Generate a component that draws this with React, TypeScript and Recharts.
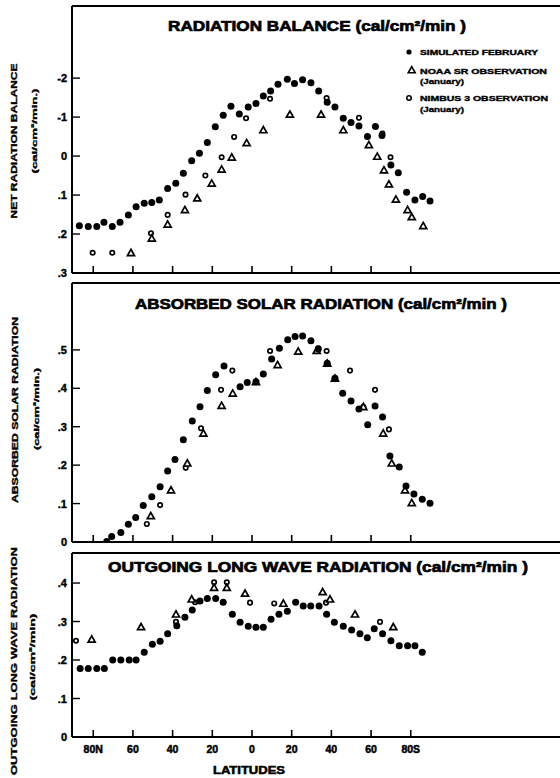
import React from 'react';
import { ScatterChart, Scatter, XAxis, YAxis, ReferenceLine } from 'recharts';

type Pt = [number, number];

// ---------- axis ticks ----------
const latTicks = [80, 60, 40, 20, 0, -20, -40, -60, -80];
const latTickLabels = ['80N', '60', '40', '20', '0', '20', '40', '60', '80S'];

const balanceTicks = [0.2, 0.1, 0, -0.1, -0.2, -0.3];
const balanceTickLabels = ['-2', '-1', '0', '.1', '.2', '.3'];
const absorbedTicks = [0.5, 0.4, 0.3, 0.2, 0.1, 0];
const absorbedTickLabels = ['.5', '.4', '.3', '.2', '.1', '0'];
const outgoingTicks = [0.4, 0.3, 0.2, 0.1, 0];
const outgoingTickLabels = ['.4', '.3', '.2', '.1', '0'];

// ---------- data: [latitude (N positive), value] ----------
const balanceSimulated: Pt[] = [
  [87.0, -0.179], [82.5, -0.181], [78.2, -0.181], [74.6, -0.170], [70.4, -0.181], [66.5, -0.170],
  [62.3, -0.151], [58.4, -0.130], [54.3, -0.121], [50.5, -0.119], [46.7, -0.113], [42.5, -0.083],
  [38.4, -0.070], [34.6, -0.044], [30.4, -0.012], [26.5, 0.007], [22.5, 0.035], [18.5, 0.075],
  [14.5, 0.105], [10.6, 0.128], [6.4, 0.108], [1.9, 0.126], [-2.0, 0.135], [-5.7, 0.154],
  [-9.4, 0.167], [-13.1, 0.184], [-17.8, 0.197], [-21.4, 0.186], [-25.5, 0.196], [-29.7, 0.188],
  [-33.6, 0.167], [-37.9, 0.138], [-41.8, 0.126], [-46.0, 0.097], [-49.9, 0.086], [-53.9, 0.077],
  [-58.2, 0.050], [-62.2, 0.076], [-65.5, 0.053], [-70.0, -0.023], [-73.7, -0.043], [-77.9, -0.093],
  [-82.1, -0.113], [-86.0, -0.104], [-89.7, -0.115],
];
const balanceNoaa: Pt[] = [
  [61.0, -0.248], [50.5, -0.211], [42.5, -0.175], [33.8, -0.138], [27.6, -0.108], [20.3, -0.070],
  [15.3, -0.034], [10.2, -0.003], [2.7, 0.034], [-5.7, 0.067], [-19.1, 0.107], [-34.8, 0.107],
  [-46.0, 0.067], [-58.9, 0.029], [-63.1, -0.001], [-66.5, -0.036], [-69.0, -0.072], [-72.5, -0.111],
  [-78.4, -0.138], [-80.5, -0.156], [-86.3, -0.179],
];
const balanceNimbus: Pt[] = [
  [80.3, -0.248], [70.4, -0.248], [50.9, -0.198], [42.5, -0.151], [33.5, -0.099], [23.5, -0.050],
  [15.3, -0.003], [9.0, 0.049], [3.0, 0.097], [-9.1, 0.147], [-37.6, 0.149], [-53.9, 0.098],
  [-65.7, 0.058], [-69.8, -0.003],
];

const absorbedSimulated: Pt[] = [
  [73.2, 0.001], [70.7, 0.014], [66.1, 0.025], [62.3, 0.046], [58.6, 0.064], [54.8, 0.095],
  [50.5, 0.118], [46.3, 0.144], [42.5, 0.185], [38.8, 0.215], [34.6, 0.266], [30.1, 0.315],
  [26.2, 0.352], [22.5, 0.394], [18.3, 0.435], [14.1, 0.458], [6.0, 0.404], [2.4, 0.415],
  [-2.0, 0.417], [-5.7, 0.437], [-9.9, 0.476], [-13.8, 0.504], [-18.0, 0.526], [-21.7, 0.535],
  [-25.5, 0.536], [-29.7, 0.524], [-33.4, 0.502], [-37.9, 0.465], [-41.8, 0.426], [-45.7, 0.387],
  [-49.9, 0.367], [-53.9, 0.346], [-58.3, 0.305], [-62.0, 0.354], [-65.8, 0.325], [-69.5, 0.224],
  [-74.2, 0.195], [-77.6, 0.146], [-81.6, 0.125], [-85.8, 0.111], [-89.7, 0.101],
];
const absorbedNoaa: Pt[] = [
  [51.0, 0.068], [40.8, 0.135], [32.6, 0.205], [24.5, 0.283], [15.3, 0.355], [9.7, 0.387],
  [-2.0, 0.417], [-12.9, 0.461], [-23.3, 0.496], [-32.6, 0.498], [-37.9, 0.465], [-41.8, 0.426],
  [-56.1, 0.352], [-66.1, 0.283], [-70.4, 0.205], [-77.1, 0.135], [-80.5, 0.102],
];
const absorbedNimbus: Pt[] = [
  [53.0, 0.047], [46.3, 0.096], [33.4, 0.193], [25.7, 0.296], [15.6, 0.396], [9.9, 0.446],
  [-9.1, 0.497], [-33.4, 0.504], [-37.6, 0.497], [-49.4, 0.446], [-56.1, 0.352], [-62.0, 0.396],
  [-69.0, 0.293],
];

const outgoingSimulated: Pt[] = [
  [86.6, 0.178], [82.5, 0.178], [78.2, 0.178], [74.4, 0.178], [70.2, 0.200], [66.1, 0.200],
  [61.9, 0.200], [58.4, 0.200], [54.3, 0.220], [50.2, 0.241], [46.3, 0.249], [42.5, 0.268],
  [37.9, 0.289], [33.8, 0.311], [30.1, 0.330], [26.2, 0.353], [22.5, 0.360], [18.3, 0.360],
  [14.5, 0.350], [9.9, 0.319], [6.0, 0.298], [1.9, 0.288], [-2.0, 0.285], [-5.7, 0.285],
  [-9.6, 0.306], [-13.6, 0.319], [-17.8, 0.327], [-22.0, 0.350], [-25.8, 0.340], [-29.6, 0.340],
  [-33.8, 0.340], [-37.6, 0.319], [-41.5, 0.298], [-46.0, 0.288], [-50.2, 0.278], [-54.4, 0.268],
  [-58.1, 0.258], [-61.6, 0.281], [-65.8, 0.268], [-70.0, 0.250], [-74.2, 0.237], [-78.4, 0.237],
  [-82.1, 0.237], [-85.8, 0.220],
];
const outgoingNoaa: Pt[] = [
  [80.8, 0.254], [55.9, 0.286], [38.3, 0.319], [30.4, 0.358], [19.1, 0.388], [12.7, 0.388],
  [3.5, 0.373], [-15.8, 0.347], [-35.6, 0.377], [-39.3, 0.358], [-51.9, 0.319], [-71.2, 0.286],
];
const outgoingNimbus: Pt[] = [
  [88.7, 0.250], [38.3, 0.299], [28.7, 0.350], [19.1, 0.402], [12.7, 0.402], [1.0, 0.349],
  [-11.2, 0.347], [-37.3, 0.349], [-64.5, 0.299],
];

// ---------- layout ----------
const X_DOMAIN: [number, number] = [-155.2, 90.7];
const FONT = "'Liberation Sans', Arial, Helvetica, sans-serif";

const DotShape = (p: any) => <circle cx={p.cx} cy={p.cy} r={3.5} fill="#000" />;
const RingShape = (p: any) => (
  <circle cx={p.cx} cy={p.cy} r={2.2} fill="#fff" stroke="#000" strokeWidth={1.7} />
);
const TriShape = (p: any) => (
  <polygon
    points={`${p.cx},${p.cy - 3.4} ${p.cx - 3.5},${p.cy + 2.8} ${p.cx + 3.5},${p.cy + 2.8}`}
    fill="#fff"
    stroke="#000"
    strokeWidth={1.7}
    strokeLinejoin="miter"
  />
);

function labelFor(values: number[], labels: string[], v: number) {
  const i = values.findIndex((t) => Math.abs(t - v) < 1e-6);
  return i >= 0 ? labels[i] : '';
}

type PanelProps = {
  top: number;
  plotHeight: number;
  yDomain: [number, number];
  yTicks: number[];
  yLabels: string[];
  sim: Pt[];
  noaa: Pt[];
  nimbus: Pt[];
  showXLabels: boolean;
};

function Panel({ top, plotHeight, yDomain, yTicks, yLabels, sim, noaa, nimbus, showXLabels }: PanelProps) {
  const xAxisH = showXLabels ? 30 : 8;
  const rows = (pts: Pt[]) => pts.map(([lat, v]) => ({ lat, v }));
  const XTick = (p: any) => (
    <g>
      <line x1={p.x} y1={p.y} x2={p.x} y2={p.y - 7} stroke="#000" strokeWidth={1.6} />
      {showXLabels && (
        <text
          x={p.x}
          y={p.y + 16}
          textAnchor="middle"
          fontFamily={FONT}
          fontWeight={700}
          fontSize={10.5}
          stroke="#000"
          strokeWidth={0.5}
          fill="#000"
        >
          {labelFor(latTicks, latTickLabels, p.payload.value)}
        </text>
      )}
    </g>
  );
  const YTick = (p: any) => (
    <g>
      <line x1={p.x} y1={p.y} x2={p.x + 8} y2={p.y} stroke="#000" strokeWidth={1.4} />
      <text
        x={p.x - 5}
        y={p.y + 4}
        textAnchor="end"
        fontFamily={FONT}
        fontWeight={700}
        fontSize={11}
        stroke="#000"
        strokeWidth={0.4}
        fill="#000"
      >
        {labelFor(yTicks, yLabels, p.payload.value)}
      </text>
    </g>
  );
  return (
    <div style={{ position: 'absolute', left: 0, top: top - 6 }}>
      <ScatterChart
        width={560}
        height={6 + plotHeight + xAxisH}
        margin={{ top: 6, right: 0, bottom: 0, left: 32 }}
      >
        <XAxis
          type="number"
          dataKey="lat"
          domain={X_DOMAIN}
          allowDataOverflow
          reversed
          ticks={latTicks}
          interval={0}
          height={xAxisH}
          tickSize={0}
          tickMargin={0}
          tickLine={false}
          axisLine={{ stroke: '#000', strokeWidth: 2 }}
          tick={XTick}
        />
        <YAxis
          type="number"
          dataKey="v"
          domain={yDomain}
          allowDataOverflow
          ticks={yTicks}
          interval={0}
          width={40}
          tickSize={0}
          tickMargin={0}
          tickLine={false}
          axisLine={{ stroke: '#000', strokeWidth: 2 }}
          tick={YTick}
        />
        <ReferenceLine y={yDomain[1]} stroke="#000" strokeWidth={2} />
        <Scatter data={rows(nimbus)} shape={RingShape} isAnimationActive={false} />
        <Scatter data={rows(noaa)} shape={TriShape} isAnimationActive={false} />
        <Scatter data={rows(sim)} shape={DotShape} isAnimationActive={false} />
      </ScatterChart>
    </div>
  );
}

function VText({ cx, cy, len, size, children }: any) {
  return (
    <text
      transform={`translate(${cx},${cy}) rotate(-90)`}
      textAnchor="middle"
      dominantBaseline="central"
      fontFamily={FONT}
      fontWeight={700}
      fontSize={size}
      textLength={len}
      lengthAdjust="spacingAndGlyphs"
      stroke="#000"
      strokeWidth={0.35}
      fill="#000"
    >
      {children}
    </text>
  );
}

function HText({ x, y, len, size, children, anchor = 'start', sw = 0.5 }: any) {
  return (
    <text
      x={x}
      y={y}
      textAnchor={anchor}
      fontFamily={FONT}
      fontWeight={700}
      fontSize={size}
      textLength={len}
      lengthAdjust="spacingAndGlyphs"
      stroke="#000"
      strokeWidth={sw}
      fill="#000"
    >
      {children}
    </text>
  );
}

export default function App() {
  return (
    <div style={{ position: 'absolute', left: 0, top: 0, width: 560, height: 778, background: '#fff', overflow: 'hidden' }}>
      <Panel
        top={6}
        plotHeight={267}
        yDomain={[-0.3, 0.385]}
        yTicks={balanceTicks}
        yLabels={balanceTickLabels}
        sim={balanceSimulated}
        noaa={balanceNoaa}
        nimbus={balanceNimbus}
        showXLabels={false}
      />
      <Panel
        top={283}
        plotHeight={259}
        yDomain={[0, 0.674]}
        yTicks={absorbedTicks}
        yLabels={absorbedTickLabels}
        sim={absorbedSimulated}
        noaa={absorbedNoaa}
        nimbus={absorbedNimbus}
        showXLabels={false}
      />
      <Panel
        top={553}
        plotHeight={184}
        yDomain={[0, 0.478]}
        yTicks={outgoingTicks}
        yLabels={outgoingTickLabels}
        sim={outgoingSimulated}
        noaa={outgoingNoaa}
        nimbus={outgoingNimbus}
        showXLabels={true}
      />
      <svg
        width={560}
        height={778}
        style={{ position: 'absolute', left: 0, top: 0, pointerEvents: 'none' }}
      >
        <HText x={168} y={30.5} len={298} size={15} sw={0.7}>RADIATION BALANCE (cal/cm²/min )</HText>
        <HText x={135} y={308.5} len={372} size={15} sw={0.7}>ABSORBED SOLAR RADIATION (cal/cm²/min )</HText>
        <HText x={108} y={572} len={420} size={15} sw={0.7}>OUTGOING LONG WAVE RADIATION (cal/cm²/min )</HText>

        <circle cx={409} cy={52} r={2.6} fill="#000" />
        <HText x={420} y={54.5} len={118} size={6.8} sw={0.35}>SIMULATED FEBRUARY</HText>
        <polygon points="411.7,66.6 408.2,72.8 415.2,72.8" fill="#fff" stroke="#000" strokeWidth={1.6} />
        <HText x={420} y={73.5} len={127} size={6.8} sw={0.35}>NOAA SR OBSERVATION</HText>
        <HText x={420} y={83.5} len={44} size={6.5} sw={0.3}>(January)</HText>
        <circle cx={409} cy={98} r={2.2} fill="#fff" stroke="#000" strokeWidth={1.6} />
        <HText x={420} y={101} len={128} size={6.8} sw={0.35}>NIMBUS 3 OBSERVATION</HText>
        <HText x={420} y={111.5} len={44} size={6.5} sw={0.3}>(January)</HText>

        <VText cx={13} cy={141} len={155} size={9.5}>NET RADIATION BALANCE</VText>
        <VText cx={34} cy={131} len={85} size={8}>(cal/cm²/min.)</VText>
        <VText cx={14} cy={410} len={186} size={9.5}>ABSORBED SOLAR RADIATION</VText>
        <VText cx={36} cy={409} len={82} size={8}>(cal/cm²/min.)</VText>
        <VText cx={13} cy={661} len={228} size={9.5}>OUTGOING LONG WAVE RADIATION</VText>
        <VText cx={32} cy={657} len={87} size={8}>(cal/cm²/min)</VText>

        <HText x={249} y={774} len={72} size={10} anchor="middle" sw={0.5}>LATITUDES</HText>
      </svg>
    </div>
  );
}
